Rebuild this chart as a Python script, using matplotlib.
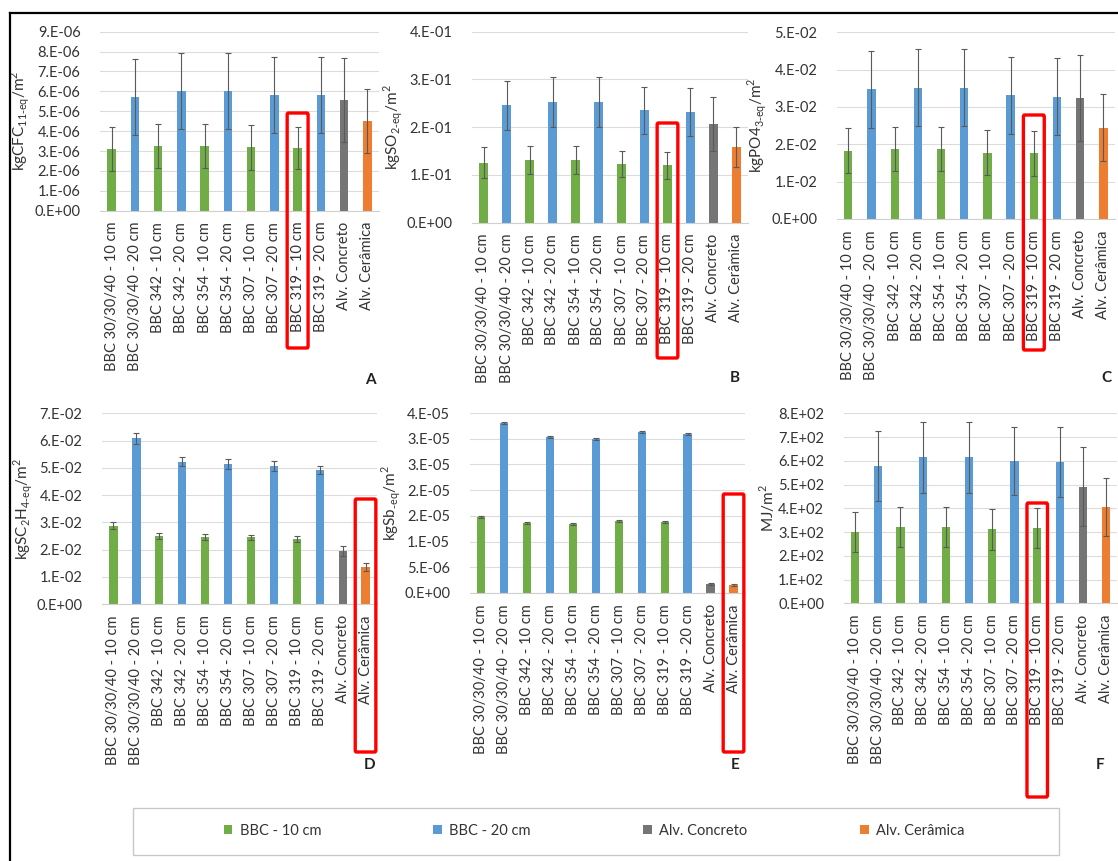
import matplotlib
matplotlib.use("Agg")
import matplotlib.pyplot as plt
from matplotlib.patches import Rectangle, FancyBboxPatch, Patch
from matplotlib.lines import Line2D
import matplotlib.transforms as mtransforms

plt.rcParams['font.family'] = ['Lato', 'DejaVu Sans']

categories = ["BBC 30/30/40 - 10 cm", "BBC 30/30/40 - 20 cm", "BBC 342 - 10 cm", "BBC 342 - 20 cm",
              "BBC 354 - 10 cm", "BBC 354 - 20 cm", "BBC 307 - 10 cm", "BBC 307 - 20 cm",
              "BBC 319 - 10 cm", "BBC 319 - 20 cm", "Alv. Concreto", "Alv. Cerâmica"]
groups = ["BBC - 10 cm", "BBC - 20 cm", "BBC - 10 cm", "BBC - 20 cm", "BBC - 10 cm", "BBC - 20 cm",
          "BBC - 10 cm", "BBC - 20 cm", "BBC - 10 cm", "BBC - 20 cm", "Alv. Concreto", "Alv. Cerâmica"]
group_names = ["BBC - 10 cm", "BBC - 20 cm", "Alv. Concreto", "Alv. Cerâmica"]
group_colors = {"BBC - 10 cm": "#70AD47", "BBC - 20 cm": "#5B9BD5",
                "Alv. Concreto": "#757575", "Alv. Cerâmica": "#ED7D31"}

# Panel A: ODP
vals_A = [3.09e-6, 5.70e-6, 3.25e-6, 6.03e-6, 3.25e-6, 6.03e-6, 3.19e-6, 5.83e-6, 3.15e-6, 5.81e-6, 5.56e-6, 4.49e-6]
err_A = [1.10e-6, 1.91e-6, 1.11e-6, 1.91e-6, 1.11e-6, 1.91e-6, 1.12e-6, 1.91e-6, 1.07e-6, 1.91e-6, 2.10e-6, 1.61e-6]
# Panel B: AP
vals_B = [0.126, 0.246, 0.131, 0.253, 0.131, 0.253, 0.123, 0.235, 0.120, 0.232, 0.207, 0.159]
err_B = [0.032, 0.051, 0.030, 0.052, 0.030, 0.052, 0.028, 0.050, 0.029, 0.051, 0.056, 0.042]
# Panel C: EP
vals_C = [0.0183, 0.0347, 0.01875, 0.0352, 0.01875, 0.0352, 0.0178, 0.0331, 0.0176, 0.0327, 0.0324, 0.0245]
err_C = [0.0060, 0.0103, 0.0060, 0.0103, 0.0060, 0.0103, 0.0060, 0.0104, 0.0060, 0.0103, 0.0115, 0.0089]
# Panel D: POCP
vals_D = [0.0287, 0.0608, 0.0251, 0.0522, 0.0247, 0.0514, 0.0245, 0.0507, 0.0237, 0.0492, 0.0195, 0.0137]
err_D = [0.0013, 0.0019, 0.0011, 0.0016, 0.0011, 0.0017, 0.0010, 0.0018, 0.0011, 0.0016, 0.0019, 0.0015]
# Panel E: ADP
vals_E = [1.48e-5, 3.31e-5, 1.36e-5, 3.03e-5, 1.35e-5, 3.00e-5, 1.40e-5, 3.13e-5, 1.38e-5, 3.09e-5, 1.8e-6, 1.5e-6]
err_E = [2e-7, 2e-7, 2e-7, 2e-7, 2e-7, 2e-7, 2e-7, 2e-7, 2e-7, 2e-7, 2e-7, 2e-7]
# Panel F: energy
vals_F = [301, 578, 323, 615, 323, 615, 312, 599, 317, 595, 491, 404]
err_F = [85, 149, 84, 150, 84, 150, 86, 145, 86, 149, 166, 122]

ticks_A = [0, 1e-6, 2e-6, 3e-6, 4e-6, 5e-6, 6e-6, 7e-6, 8e-6, 9e-6]
ticklabels_A = ["0.E+00", "1.E-06", "2.E-06", "3.E-06", "4.E-06", "5.E-06", "6.E-06", "7.E-06", "8.E-06", "9.E-06"]
ticks_B = [0, 0.1, 0.2, 0.3, 0.4]
ticklabels_B = ["0.E+00", "1.E-01", "2.E-01", "3.E-01", "4.E-01"]
ticks_C = [0, 0.01, 0.02, 0.03, 0.04, 0.05]
ticklabels_C = ["0.E+00", "1.E-02", "2.E-02", "3.E-02", "4.E-02", "5.E-02"]
ticks_D = [0, 0.01, 0.02, 0.03, 0.04, 0.05, 0.06, 0.07]
ticklabels_D = ["0.E+00", "1.E-02", "2.E-02", "3.E-02", "4.E-02", "5.E-02", "6.E-02", "7.E-02"]
ticks_E = [0, 5e-6, 1e-5, 1.5e-5, 2e-5, 2.5e-5, 3e-5, 3.5e-5]
ticklabels_E = ["0.E+00", "5.E-06", "1.E-05", "2.E-05", "2.E-05", "3.E-05", "3.E-05", "4.E-05"]
ticks_F = [0, 100, 200, 300, 400, 500, 600, 700, 800]
ticklabels_F = ["0.E+00", "1.E+02", "2.E+02", "3.E+02", "4.E+02", "5.E+02", "6.E+02", "7.E+02", "8.E+02"]

ylabels = [r"kgCFC$_{\mathregular{11\text{-}eq}}$/m$^{\mathregular{2}}$",
           r"kgSO$_{\mathregular{2\text{-}eq}}$/m$^{\mathregular{2}}$",
           r"kgPO4$_{\mathregular{3\text{-}eq}}$/m$^{\mathregular{2}}$",
           r"kgSC$_{\mathregular{2}}$H$_{\mathregular{4\text{-}eq}}$/m$^{\mathregular{2}}$",
           r"kgSb$_{\mathregular{\text{-}eq}}$/m$^{\mathregular{2}}$",
           r"MJ/m$^{\mathregular{2}}$"]
letters = ["A", "B", "C", "D", "E", "F"]
highlight = ["BBC 319 - 10 cm", "BBC 319 - 10 cm", "BBC 319 - 10 cm",
             "Alv. Cerâmica", "Alv. Cerâmica", "BBC 319 - 10 cm"]

W, H = 1118, 861
fig = plt.figure(figsize=(W / 100, H / 100), dpi=100)

# axes boxes in pixels: left, right, top, bottom
boxes = [(100, 379, 31.7, 210.7), (472, 748, 31.7, 222.7), (836.7, 1115, 32.3, 219),
         (102, 377, 413.3, 604), (469.5, 745, 413, 593), (843.5, 1117, 413.3, 603.3)]
# red highlight box vertical extent (pixels)
hl_y = [(113, 348), (123, 358), (115, 350), (499, 752), (494, 752), (503, 797)]
letter_pos = [(370, 380), (735, 378), (1106, 378), (370, 765), (735, 765), (1100, 765)]

panels = [(vals_A, err_A, ticks_A, ticklabels_A), (vals_B, err_B, ticks_B, ticklabels_B),
          (vals_C, err_C, ticks_C, ticklabels_C), (vals_D, err_D, ticks_D, ticklabels_D),
          (vals_E, err_E, ticks_E, ticklabels_E), (vals_F, err_F, ticks_F, ticklabels_F)]

txt_color = "#333333"
for i, (vals, errs, ticks, tlabels) in enumerate(panels):
    l, r, t, b = boxes[i]
    ax = fig.add_axes([l / W, 1 - b / H, (r - l) / W, (b - t) / H])
    x = list(range(len(categories)))
    cols = [group_colors[g] for g in groups]
    ax.bar(x, vals, width=0.36, color=cols, zorder=2)
    ax.errorbar(x, vals, yerr=errs, fmt="none", ecolor="#5a5a5a", elinewidth=0.8,
                capsize=2, capthick=0.8, zorder=3)
    ax.set_xlim(-0.5, len(categories) - 0.5)
    ax.set_ylim(ticks[0], ticks[-1])
    ax.set_yticks(ticks)
    ax.set_yticklabels(tlabels)
    ax.set_xticks(x)
    ax.set_xticklabels(categories, rotation=90)
    ax.tick_params(axis="both", length=0, labelsize=10.5, colors=txt_color)
    ax.tick_params(axis="y", pad=14)
    ax.tick_params(axis="x", pad=8)
    ax.grid(axis="y", color="#dcdcdc", linewidth=0.8, zorder=0)
    for s in ["top", "left", "right"]:
        ax.spines[s].set_visible(False)
    ax.spines["bottom"].set_color("#d0d0d0")
    ax.spines["bottom"].set_linewidth(0.8)
    ax.set_ylabel(ylabels[i], fontsize=11, color=txt_color)
    ax.yaxis.set_label_coords(-0.243, 0.5)
    # red highlight
    k = categories.index(highlight[i])
    yt, yb = hl_y[i]
    y0 = (b - yb) / (b - t)
    y1 = (b - yt) / (b - t)
    trans = mtransforms.blended_transform_factory(ax.transData, ax.transAxes)
    rect = FancyBboxPatch((k - 0.45, y0), 0.9, y1 - y0, boxstyle="round,pad=0,rounding_size=0.05",
                          transform=trans, fill=False, edgecolor="#ff0000", linewidth=2.4,
                          clip_on=False, zorder=5, mutation_aspect=0.2)
    ax.add_patch(rect)
    lx, ly = letter_pos[i]
    fig.text(lx / W, 1 - ly / H, letters[i], fontsize=11, fontweight="bold", color="#222222",
             ha="center", va="center")

# outer border (left and top)
fig.add_artist(Line2D([10 / W, 10 / W], [0, 1 - 13 / H], color="black", linewidth=1.6))
fig.add_artist(Line2D([10 / W, 1], [1 - 13 / H, 1 - 13 / H], color="black", linewidth=1.6))

# legend frame
fig.add_artist(Rectangle((133 / W, 1 - 855 / H), (1059 - 133) / W, (855 - 808) / H,
                         transform=fig.transFigure, fill=False, edgecolor="#c8c8c8", linewidth=1))
handles = [Patch(facecolor=group_colors[g], edgecolor="none") for g in group_names]
fig.legend(handles, group_names, loc="center", bbox_to_anchor=(594 / W, 1 - 831 / H),
           ncol=4, frameon=False, fontsize=10.5, handlelength=0.6, handleheight=0.6,
           handletextpad=0.5, columnspacing=7.7, labelcolor=txt_color)

fig.savefig("out.png", dpi=100)
